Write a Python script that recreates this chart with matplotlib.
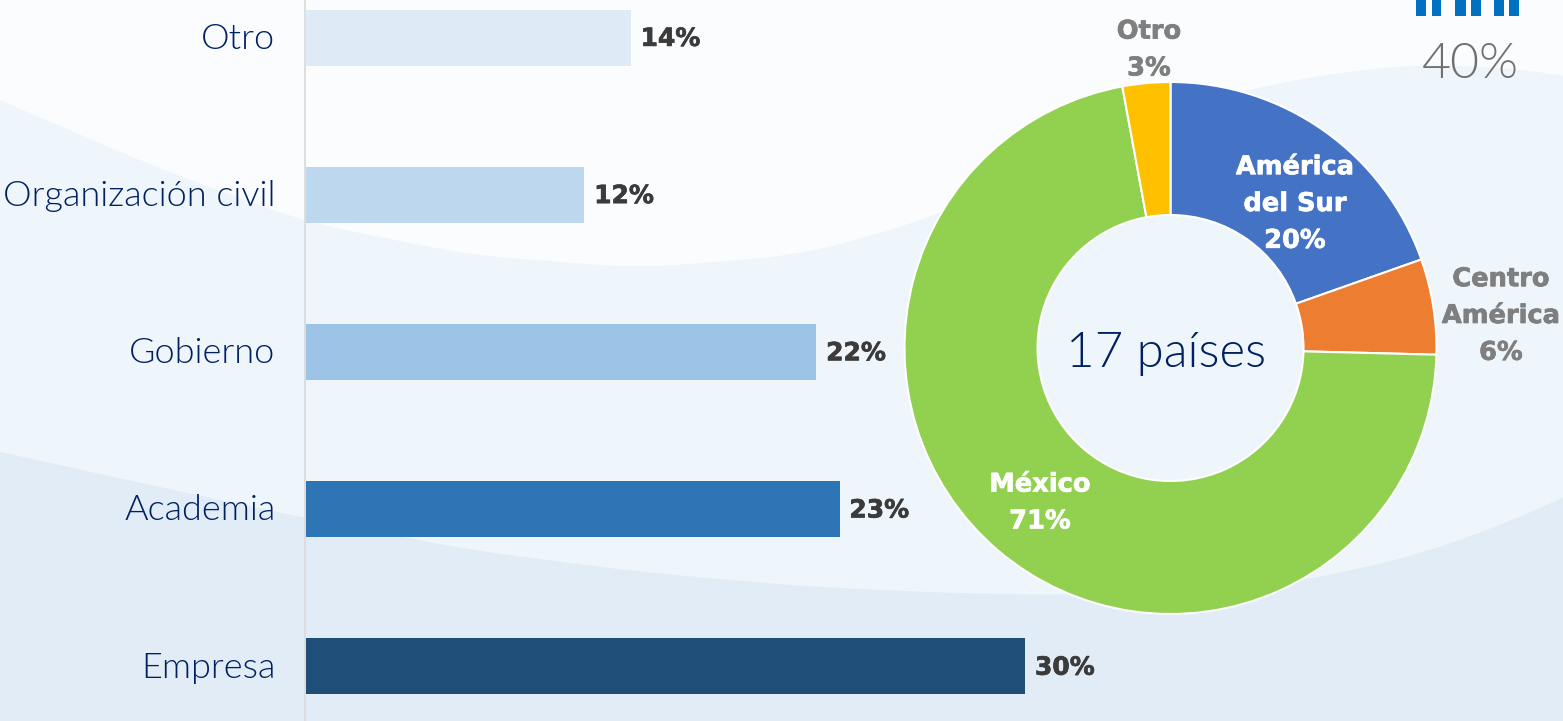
"""Participantes por sector (barras) y por región (dona), sobre fondo ondulado."""

import matplotlib
matplotlib.use("Agg")
import matplotlib.patheffects as pe
import matplotlib.pyplot as plt
import numpy as np

W, H = 1563, 721

sectors = ["Otro", "Organización civil", "Gobierno", "Academia", "Empresa"]
sector_values = [14, 12, 22, 23, 31]
sector_labels = ["14%", "12%", "22%", "23%", "30%"]
sector_colors = ["#DEEAF6", "#BDD7EE", "#9DC3E6", "#2E75B6", "#1F4E79"]

regions = ["América\ndel Sur", "Centro\nAmérica", "México", "Otro"]
region_values = [19.6, 5.8, 71.7, 2.9]
region_labels = ["20%", "6%", "71%", "3%"]
region_colors = ["#4472C4", "#ED7D31", "#92D050", "#FFC000"]
region_text = ["white", "#7F7F7F", "white", "#7F7F7F"]
region_pos = [(1295, 204), (1501, 316), (1040, 503), (1149, 50)]

# Background waves, in pixels of the image
wave_x = [-40, 0, 150, 305, 470, 640, 800, 920, 1050, 1170, 1290, 1400, 1490, 1563, 1600]
wave_mid = [84, 100, 165, 222, 255, 268, 255, 222, 165, 110, 80, 65, 66, 75, 82]
wave_low = [443, 452, 485, 518, 550, 572, 586, 592, 595, 593, 583, 560, 530, 498, 480]

NAVY = "#002060"
LIGHT = dict(family="Lato", fontweight=300)
HEAVY = dict(family="DejaVu Sans", fontweight="bold")


def thick(color):
    # fattens DejaVu Bold a little, the original face is heavier
    return [pe.withStroke(linewidth=0.5, foreground=color)]


fig = plt.figure(figsize=(W / 100, H / 100), dpi=100, facecolor="#FBFCFE")

bg = fig.add_axes([0, 0, 1, 1])
bg.set_xlim(0, W)
bg.set_ylim(H, 0)
bg.axis("off")
xs = np.linspace(-40, 1600, 420)
mid = np.interp(xs, wave_x, wave_mid)
low = np.interp(xs, wave_x, wave_low)
# light smoothing so the interpolated waves don't show corners
kernel = np.ones(25) / 25
mid = np.convolve(np.pad(mid, 12, mode="edge"), kernel, mode="valid")
low = np.convolve(np.pad(low, 12, mode="edge"), kernel, mode="valid")
bg.fill_between(xs, mid, H, color="#EEF5FB", lw=0)
bg.fill_between(xs, low, H, color="#E1ECF6", lw=0)

# icon feet cut off by the top edge
for x0, x1 in [(1416, 1426), (1432, 1441), (1455, 1466), (1471, 1481), (1494, 1504), (1509, 1519)]:
    bg.fill_between([x0, x1], 0, 16, color="#0070C0", lw=0)
bg.text(1470, 64, "40%", ha="center", va="center", fontsize=36, color="#707070", **LIGHT)

ax = fig.add_axes([306 / W, 0, (W - 306) / W, 1])
ax.patch.set_alpha(0)
ax.set_xlim(0, (W - 306) / 23.2)
ax.set_ylim((H - 37.5) / 157.2, -37.5 / 157.2)
ypos = np.arange(len(sectors))
ax.barh(ypos, sector_values, height=56 / 157.2, color=sector_colors)
ax.set_yticks([])
ax.set_xticks([])
for s in ["top", "right", "bottom"]:
    ax.spines[s].set_visible(False)
ax.spines["left"].set_color("#D9D9D9")
ax.spines["left"].set_linewidth(1.2)
ax.spines["left"].set_position(("outward", 1))
for y, name in zip(ypos, sectors):
    ax.annotate(name, (0, y), xytext=(-22, -1), textcoords="offset points", va="center", ha="right",
                fontsize=26, color=NAVY, annotation_clip=False, **LIGHT)
for y, v, t in zip(ypos, sector_values, sector_labels):
    ax.annotate(t, (v, y), xytext=(7, -1), textcoords="offset points", va="center",
                fontsize=18, color="#3B3B3B", path_effects=thick("#3B3B3B"), **HEAVY)

pie = fig.add_axes([(1170.5 - 268) / W, 1 - (348 + 268) / H, 536 / W, 536 / H])
pie.patch.set_alpha(0)
pie.pie(region_values, colors=region_colors, startangle=90, counterclock=False, radius=266 / 268,
        wedgeprops=dict(width=133 / 268, edgecolor="white", linewidth=1.5))
pie.set_xlim(-1, 1)
pie.set_ylim(-1, 1)

# text above the pie needs its own overlay
fg = fig.add_axes([0, 0, 1, 1])
fg.set_xlim(0, W)
fg.set_ylim(H, 0)
fg.axis("off")
for name, pct, col, (px, py) in zip(regions, region_labels, region_text, region_pos):
    fg.text(px, py, f"{name}\n{pct}", ha="center", va="center", color=col,
            fontsize=18.5, linespacing=1.54, path_effects=thick(col), **HEAVY)
fg.text(1166, 353, "17 países", ha="center", va="center", fontsize=35.5, color=NAVY, **LIGHT)

fig.savefig("out.png", dpi=100)
